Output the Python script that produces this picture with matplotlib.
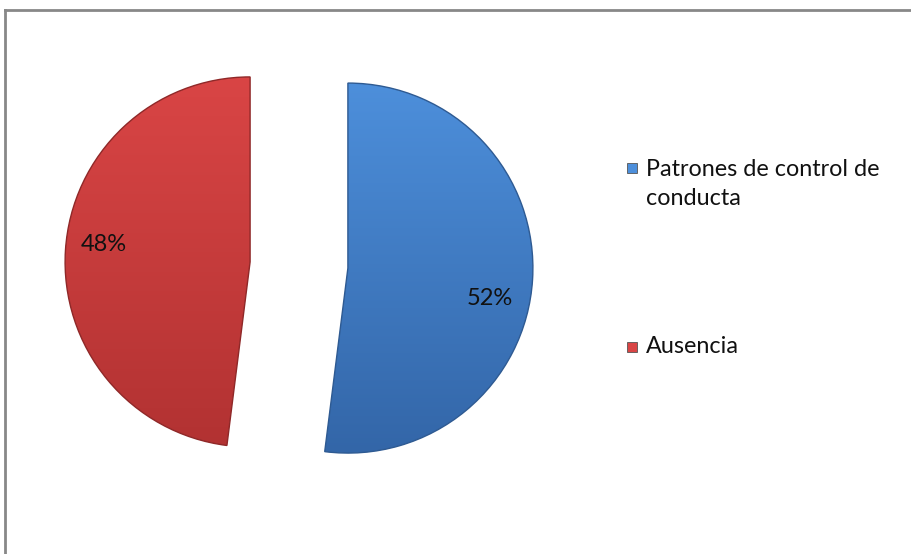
import numpy as np
import matplotlib.pyplot as plt
from matplotlib.colors import LinearSegmentedColormap
from matplotlib.patches import Rectangle

# data
categories = ["Patrones de control de\nconducta", "Ausencia"]
shares = [52, 48]
top_colors = ["#4d8fdb", "#d94545"]
bottom_colors = ["#3366a8", "#b23232"]
edge_colors = ["#2e5a92", "#8f2828"]

W, H = 911, 554
fig = plt.figure(figsize=(W / 100, H / 100), dpi=100)
ax = fig.add_axes([0, 0, 1, 1])

cx, cy, r = 299, H - 265, 185
wedges, texts, autotexts = ax.pie(
    shares, startangle=90, counterclock=False, center=(cx, cy), radius=r,
    explode=[49, 49], autopct="%1.0f%%", pctdistance=0.78,
    colors=top_colors,
    wedgeprops=dict(linewidth=1.0),
    textprops=dict(fontsize=17, family="Lato", color="#111111"),
)
ax.set_xlim(0, W)
ax.set_ylim(0, H)
ax.set_aspect("equal")
ax.axis("off")

# vertical gradient clipped to each wedge for the bevelled Excel look
grad = np.linspace(0, 1, 256).reshape(-1, 1)
for w, c0, c1, ec in zip(wedges, top_colors, bottom_colors, edge_colors):
    w.set_edgecolor(ec)
    x0, y0 = w.center
    cmap = LinearSegmentedColormap.from_list("g", [c0, c1])
    im = ax.imshow(grad, cmap=cmap, aspect="auto", origin="upper",
                   extent=(x0 - r, x0 + r, y0 - r, y0 + r), zorder=w.get_zorder() + 0.1)
    im.set_clip_path(w)
    w.set_zorder(w.get_zorder() + 0.2)
    w.set_facecolor("none")

# nudge the percentage labels to where Excel put them
for t, dy in zip(autotexts, [-21, 8]):
    x, y = t.get_position()
    t.set_position((x - 2, y + dy))
    t.set_zorder(5)

# legend drawn by hand so the key square sits on the first text line
key_y = [H - 168, H - 347]
base_y = [H - 205, H - 353]
for lab, col, ky, by in zip(categories, top_colors, key_y, base_y):
    ax.add_patch(Rectangle((627, ky - 5), 10, 10, facecolor=col,
                           edgecolor="#555555", linewidth=0.6))
    ax.text(646, by, lab, fontsize=16.8, family="Lato", color="#111111",
            va="baseline", ha="left", linespacing=1.45)

# outer frame (only top and left visible)
ax.plot([5, W], [H - 10, H - 10], color="#888888", lw=2, clip_on=False)
ax.plot([5, 5], [H - 10, 0], color="#888888", lw=2, clip_on=False)

fig.savefig("out.png", dpi=100, facecolor="white")
